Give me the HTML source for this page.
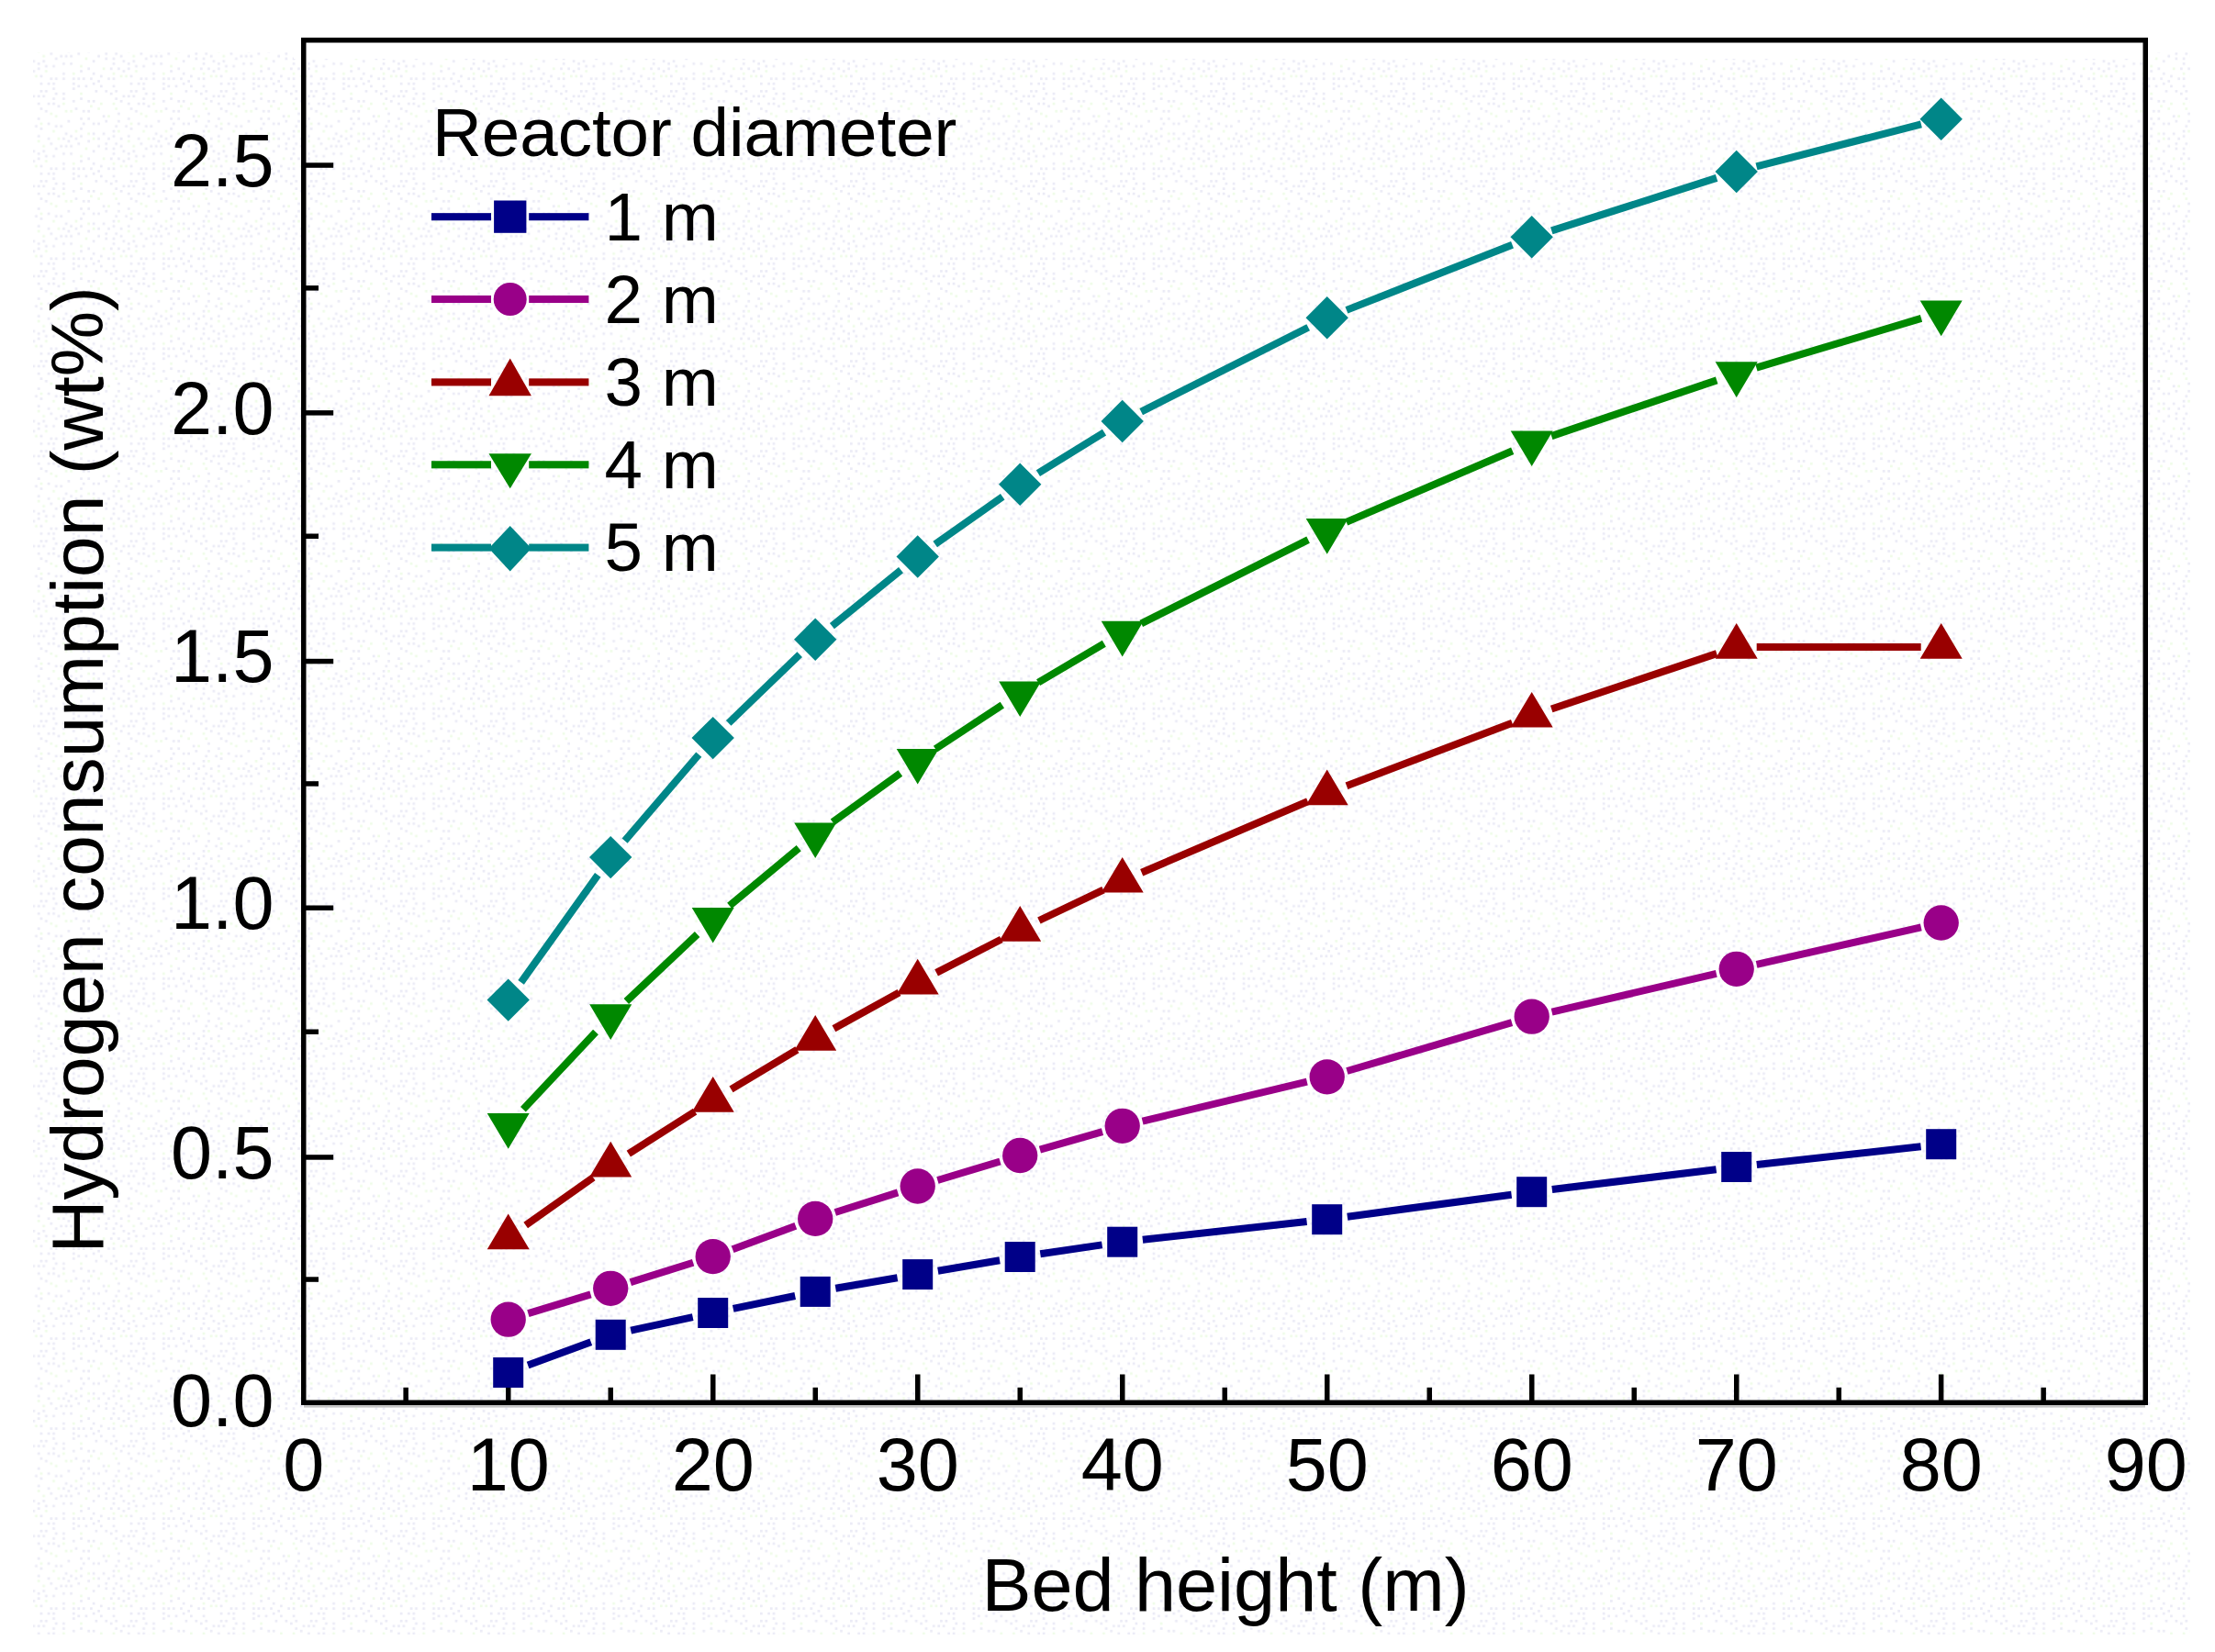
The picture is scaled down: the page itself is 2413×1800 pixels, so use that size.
<!DOCTYPE html>
<html><head><meta charset="utf-8"><title>Hydrogen consumption vs bed height</title>
<style>html,body{margin:0;padding:0;background:#fff;}body{width:2413px;height:1800px;position:relative;overflow:hidden;font-family:"Liberation Sans",sans-serif;}</style>
</head><body>
<svg width="2413" height="1800" viewBox="0 0 2413 1800" style="position:absolute;left:0;top:0">
<defs><pattern id="dz" width="98.05" height="98.05" patternUnits="userSpaceOnUse"><rect x="0.00" y="16.34" width="2.72" height="2.72" fill="#effce8"/><rect x="0.00" y="84.43" width="2.72" height="2.72" fill="#ebebf6"/><rect x="2.72" y="10.89" width="2.72" height="2.72" fill="#ebebf6"/><rect x="2.72" y="35.41" width="2.72" height="2.72" fill="#ebebf6"/><rect x="2.72" y="46.30" width="2.72" height="2.72" fill="#ebebf6"/><rect x="2.72" y="51.75" width="2.72" height="2.72" fill="#effce8"/><rect x="2.72" y="65.36" width="2.72" height="2.72" fill="#ebebf6"/><rect x="2.72" y="78.98" width="2.72" height="2.72" fill="#ebebf6"/><rect x="2.72" y="89.88" width="2.72" height="2.72" fill="#ebebf6"/><rect x="5.45" y="0.00" width="2.72" height="2.72" fill="#ebebf6"/><rect x="8.17" y="19.06" width="2.72" height="2.72" fill="#effce8"/><rect x="8.17" y="35.41" width="2.72" height="2.72" fill="#ebebf6"/><rect x="8.17" y="51.75" width="2.72" height="2.72" fill="#ebebf6"/><rect x="8.17" y="59.92" width="2.72" height="2.72" fill="#ebebf6"/><rect x="8.17" y="87.15" width="2.72" height="2.72" fill="#ebebf6"/><rect x="10.89" y="13.62" width="2.72" height="2.72" fill="#effce8"/><rect x="10.89" y="81.70" width="2.72" height="2.72" fill="#ebebf6"/><rect x="10.89" y="92.60" width="2.72" height="2.72" fill="#ebebf6"/><rect x="13.62" y="27.23" width="2.72" height="2.72" fill="#ebebf6"/><rect x="13.62" y="46.30" width="2.72" height="2.72" fill="#ebebf6"/><rect x="13.62" y="73.53" width="2.72" height="2.72" fill="#effce8"/><rect x="16.34" y="0.00" width="2.72" height="2.72" fill="#ebebf6"/><rect x="16.34" y="32.68" width="2.72" height="2.72" fill="#ebebf6"/><rect x="16.34" y="57.19" width="2.72" height="2.72" fill="#ebebf6"/><rect x="16.34" y="62.64" width="2.72" height="2.72" fill="#ebebf6"/><rect x="19.06" y="27.23" width="2.72" height="2.72" fill="#effce8"/><rect x="19.06" y="51.75" width="2.72" height="2.72" fill="#ebebf6"/><rect x="19.06" y="84.43" width="2.72" height="2.72" fill="#ebebf6"/><rect x="21.79" y="2.72" width="2.72" height="2.72" fill="#ebebf6"/><rect x="21.79" y="73.53" width="2.72" height="2.72" fill="#ebebf6"/><rect x="24.51" y="13.62" width="2.72" height="2.72" fill="#effce8"/><rect x="24.51" y="43.58" width="2.72" height="2.72" fill="#ebebf6"/><rect x="24.51" y="49.02" width="2.72" height="2.72" fill="#ebebf6"/><rect x="24.51" y="62.64" width="2.72" height="2.72" fill="#ebebf6"/><rect x="24.51" y="68.09" width="2.72" height="2.72" fill="#ebebf6"/><rect x="24.51" y="78.98" width="2.72" height="2.72" fill="#effce8"/><rect x="24.51" y="84.43" width="2.72" height="2.72" fill="#ebebf6"/><rect x="24.51" y="92.60" width="2.72" height="2.72" fill="#ebebf6"/><rect x="27.23" y="0.00" width="2.72" height="2.72" fill="#ebebf6"/><rect x="27.23" y="8.17" width="2.72" height="2.72" fill="#ebebf6"/><rect x="27.23" y="19.06" width="2.72" height="2.72" fill="#effce8"/><rect x="27.23" y="38.13" width="2.72" height="2.72" fill="#ebebf6"/><rect x="27.23" y="57.19" width="2.72" height="2.72" fill="#ebebf6"/><rect x="29.96" y="24.51" width="2.72" height="2.72" fill="#ebebf6"/><rect x="29.96" y="32.68" width="2.72" height="2.72" fill="#ebebf6"/><rect x="29.96" y="43.58" width="2.72" height="2.72" fill="#effce8"/><rect x="29.96" y="73.53" width="2.72" height="2.72" fill="#ebebf6"/><rect x="32.68" y="10.89" width="2.72" height="2.72" fill="#ebebf6"/><rect x="32.68" y="51.75" width="2.72" height="2.72" fill="#ebebf6"/><rect x="32.68" y="59.92" width="2.72" height="2.72" fill="#ebebf6"/><rect x="32.68" y="81.70" width="2.72" height="2.72" fill="#effce8"/><rect x="35.41" y="5.45" width="2.72" height="2.72" fill="#ebebf6"/><rect x="35.41" y="65.36" width="2.72" height="2.72" fill="#ebebf6"/><rect x="35.41" y="76.26" width="2.72" height="2.72" fill="#ebebf6"/><rect x="38.13" y="38.13" width="2.72" height="2.72" fill="#ebebf6"/><rect x="38.13" y="81.70" width="2.72" height="2.72" fill="#effce8"/><rect x="40.85" y="5.45" width="2.72" height="2.72" fill="#ebebf6"/><rect x="40.85" y="13.62" width="2.72" height="2.72" fill="#ebebf6"/><rect x="40.85" y="29.96" width="2.72" height="2.72" fill="#ebebf6"/><rect x="40.85" y="49.02" width="2.72" height="2.72" fill="#ebebf6"/><rect x="40.85" y="54.47" width="2.72" height="2.72" fill="#effce8"/><rect x="40.85" y="68.09" width="2.72" height="2.72" fill="#ebebf6"/><rect x="40.85" y="73.53" width="2.72" height="2.72" fill="#ebebf6"/><rect x="43.58" y="0.00" width="2.72" height="2.72" fill="#ebebf6"/><rect x="43.58" y="19.06" width="2.72" height="2.72" fill="#ebebf6"/><rect x="43.58" y="35.41" width="2.72" height="2.72" fill="#effce8"/><rect x="43.58" y="40.85" width="2.72" height="2.72" fill="#ebebf6"/><rect x="43.58" y="81.70" width="2.72" height="2.72" fill="#ebebf6"/><rect x="43.58" y="89.88" width="2.72" height="2.72" fill="#ebebf6"/><rect x="46.30" y="5.45" width="2.72" height="2.72" fill="#ebebf6"/><rect x="46.30" y="59.92" width="2.72" height="2.72" fill="#effce8"/><rect x="46.30" y="65.36" width="2.72" height="2.72" fill="#ebebf6"/><rect x="49.02" y="0.00" width="2.72" height="2.72" fill="#ebebf6"/><rect x="49.02" y="21.79" width="2.72" height="2.72" fill="#ebebf6"/><rect x="49.02" y="70.81" width="2.72" height="2.72" fill="#ebebf6"/><rect x="49.02" y="76.26" width="2.72" height="2.72" fill="#effce8"/><rect x="51.75" y="13.62" width="2.72" height="2.72" fill="#ebebf6"/><rect x="51.75" y="35.41" width="2.72" height="2.72" fill="#ebebf6"/><rect x="51.75" y="51.75" width="2.72" height="2.72" fill="#ebebf6"/><rect x="51.75" y="89.88" width="2.72" height="2.72" fill="#ebebf6"/><rect x="54.47" y="24.51" width="2.72" height="2.72" fill="#effce8"/><rect x="54.47" y="57.19" width="2.72" height="2.72" fill="#ebebf6"/><rect x="54.47" y="84.43" width="2.72" height="2.72" fill="#ebebf6"/><rect x="57.19" y="8.17" width="2.72" height="2.72" fill="#ebebf6"/><rect x="57.19" y="13.62" width="2.72" height="2.72" fill="#ebebf6"/><rect x="57.19" y="43.58" width="2.72" height="2.72" fill="#effce8"/><rect x="57.19" y="70.81" width="2.72" height="2.72" fill="#ebebf6"/><rect x="57.19" y="89.88" width="2.72" height="2.72" fill="#ebebf6"/><rect x="57.19" y="95.32" width="2.72" height="2.72" fill="#ebebf6"/><rect x="59.92" y="2.72" width="2.72" height="2.72" fill="#ebebf6"/><rect x="59.92" y="27.23" width="2.72" height="2.72" fill="#effce8"/><rect x="59.92" y="38.13" width="2.72" height="2.72" fill="#ebebf6"/><rect x="59.92" y="62.64" width="2.72" height="2.72" fill="#ebebf6"/><rect x="59.92" y="84.43" width="2.72" height="2.72" fill="#ebebf6"/><rect x="62.64" y="16.34" width="2.72" height="2.72" fill="#ebebf6"/><rect x="62.64" y="51.75" width="2.72" height="2.72" fill="#effce8"/><rect x="65.36" y="38.13" width="2.72" height="2.72" fill="#ebebf6"/><rect x="65.36" y="59.92" width="2.72" height="2.72" fill="#ebebf6"/><rect x="68.09" y="2.72" width="2.72" height="2.72" fill="#ebebf6"/><rect x="68.09" y="8.17" width="2.72" height="2.72" fill="#ebebf6"/><rect x="68.09" y="13.62" width="2.72" height="2.72" fill="#effce8"/><rect x="68.09" y="51.75" width="2.72" height="2.72" fill="#ebebf6"/><rect x="68.09" y="68.09" width="2.72" height="2.72" fill="#ebebf6"/><rect x="68.09" y="78.98" width="2.72" height="2.72" fill="#ebebf6"/><rect x="68.09" y="84.43" width="2.72" height="2.72" fill="#ebebf6"/><rect x="70.81" y="21.79" width="2.72" height="2.72" fill="#effce8"/><rect x="70.81" y="46.30" width="2.72" height="2.72" fill="#ebebf6"/><rect x="70.81" y="59.92" width="2.72" height="2.72" fill="#ebebf6"/><rect x="73.53" y="32.68" width="2.72" height="2.72" fill="#ebebf6"/><rect x="73.53" y="54.47" width="2.72" height="2.72" fill="#ebebf6"/><rect x="76.26" y="21.79" width="2.72" height="2.72" fill="#effce8"/><rect x="76.26" y="49.02" width="2.72" height="2.72" fill="#ebebf6"/><rect x="76.26" y="59.92" width="2.72" height="2.72" fill="#ebebf6"/><rect x="76.26" y="68.09" width="2.72" height="2.72" fill="#ebebf6"/><rect x="78.98" y="10.89" width="2.72" height="2.72" fill="#ebebf6"/><rect x="78.98" y="78.98" width="2.72" height="2.72" fill="#effce8"/><rect x="78.98" y="84.43" width="2.72" height="2.72" fill="#ebebf6"/><rect x="78.98" y="89.88" width="2.72" height="2.72" fill="#ebebf6"/><rect x="78.98" y="95.32" width="2.72" height="2.72" fill="#ebebf6"/><rect x="81.70" y="19.06" width="2.72" height="2.72" fill="#ebebf6"/><rect x="81.70" y="43.58" width="2.72" height="2.72" fill="#effce8"/><rect x="81.70" y="51.75" width="2.72" height="2.72" fill="#ebebf6"/><rect x="84.43" y="57.19" width="2.72" height="2.72" fill="#ebebf6"/><rect x="84.43" y="84.43" width="2.72" height="2.72" fill="#ebebf6"/><rect x="84.43" y="92.60" width="2.72" height="2.72" fill="#ebebf6"/><rect x="87.15" y="2.72" width="2.72" height="2.72" fill="#effce8"/><rect x="87.15" y="8.17" width="2.72" height="2.72" fill="#ebebf6"/><rect x="87.15" y="29.96" width="2.72" height="2.72" fill="#ebebf6"/><rect x="87.15" y="40.85" width="2.72" height="2.72" fill="#ebebf6"/><rect x="87.15" y="49.02" width="2.72" height="2.72" fill="#ebebf6"/><rect x="87.15" y="70.81" width="2.72" height="2.72" fill="#effce8"/><rect x="87.15" y="76.26" width="2.72" height="2.72" fill="#ebebf6"/><rect x="89.88" y="21.79" width="2.72" height="2.72" fill="#ebebf6"/><rect x="89.88" y="35.41" width="2.72" height="2.72" fill="#ebebf6"/><rect x="89.88" y="84.43" width="2.72" height="2.72" fill="#ebebf6"/><rect x="92.60" y="62.64" width="2.72" height="2.72" fill="#effce8"/><rect x="92.60" y="92.60" width="2.72" height="2.72" fill="#ebebf6"/><rect x="95.32" y="10.89" width="2.72" height="2.72" fill="#ebebf6"/><rect x="95.32" y="21.79" width="2.72" height="2.72" fill="#ebebf6"/><rect x="95.32" y="29.96" width="2.72" height="2.72" fill="#ebebf6"/><rect x="95.32" y="46.30" width="2.72" height="2.72" fill="#effce8"/><rect x="95.32" y="54.47" width="2.72" height="2.72" fill="#ebebf6"/><rect x="95.32" y="73.53" width="2.72" height="2.72" fill="#ebebf6"/></pattern></defs>
<rect x="0" y="0" width="2413" height="1800" fill="#ffffff"/>
<rect x="36" y="57" width="2350" height="1724" fill="url(#dz)"/>
<rect x="320" y="41" width="2028" height="23" fill="#fff"/>
<rect x="331" y="1531.0" width="2006.0" height="2.6" fill="#c4c4c4"/>
<rect x="330.75" y="43.75" width="2006.5" height="1484.5" fill="none" stroke="#000" stroke-width="5.5"/>
<rect x="439.4" y="1511.8" width="5.5" height="14.7" fill="#000"/>
<rect x="551.0" y="1497.5" width="5.5" height="29" fill="#000"/>
<rect x="662.5" y="1511.8" width="5.5" height="14.7" fill="#000"/>
<rect x="774.0" y="1497.5" width="5.5" height="29" fill="#000"/>
<rect x="885.5" y="1511.8" width="5.5" height="14.7" fill="#000"/>
<rect x="997.0" y="1497.5" width="5.5" height="29" fill="#000"/>
<rect x="1108.5" y="1511.8" width="5.5" height="14.7" fill="#000"/>
<rect x="1220.0" y="1497.5" width="5.5" height="29" fill="#000"/>
<rect x="1331.5" y="1511.8" width="5.5" height="14.7" fill="#000"/>
<rect x="1443.0" y="1497.5" width="5.5" height="29" fill="#000"/>
<rect x="1554.5" y="1511.8" width="5.5" height="14.7" fill="#000"/>
<rect x="1666.0" y="1497.5" width="5.5" height="29" fill="#000"/>
<rect x="1777.5" y="1511.8" width="5.5" height="14.7" fill="#000"/>
<rect x="1889.0" y="1497.5" width="5.5" height="29" fill="#000"/>
<rect x="2000.5" y="1511.8" width="5.5" height="14.7" fill="#000"/>
<rect x="2111.9" y="1497.5" width="5.5" height="29" fill="#000"/>
<rect x="2223.4" y="1511.8" width="5.5" height="14.7" fill="#000"/>
<rect x="332.5" y="177.3" width="30.7" height="5.5" fill="#000"/>
<rect x="332.5" y="311.1" width="14.5" height="5.5" fill="#000"/>
<rect x="332.5" y="447.1" width="30.7" height="5.5" fill="#000"/>
<rect x="332.5" y="581.5" width="14.5" height="5.5" fill="#000"/>
<rect x="332.5" y="717.8" width="30.7" height="5.5" fill="#000"/>
<rect x="332.5" y="851.2" width="14.5" height="5.5" fill="#000"/>
<rect x="332.5" y="986.5" width="30.7" height="5.5" fill="#000"/>
<rect x="332.5" y="1121.5" width="14.5" height="5.5" fill="#000"/>
<rect x="332.5" y="1258.2" width="30.7" height="5.5" fill="#000"/>
<rect x="332.5" y="1391.3" width="14.5" height="5.5" fill="#000"/>
<line x1="575.1" y1="1487.6" x2="643.8" y2="1462.2" stroke="#000088" stroke-width="8"/>
<line x1="687.2" y1="1449.6" x2="754.7" y2="1435.2" stroke="#000088" stroke-width="8"/>
<line x1="798.7" y1="1425.9" x2="866.2" y2="1412.0" stroke="#000088" stroke-width="8"/>
<line x1="910.3" y1="1403.7" x2="977.6" y2="1392.3" stroke="#000088" stroke-width="8"/>
<line x1="1021.8" y1="1384.8" x2="1089.1" y2="1373.3" stroke="#000088" stroke-width="8"/>
<line x1="1133.3" y1="1366.3" x2="1200.6" y2="1356.4" stroke="#000088" stroke-width="8"/>
<line x1="1244.8" y1="1350.8" x2="1423.6" y2="1331.1" stroke="#000088" stroke-width="8"/>
<line x1="1467.8" y1="1325.7" x2="1646.6" y2="1301.7" stroke="#000088" stroke-width="8"/>
<line x1="1690.8" y1="1296.0" x2="1869.6" y2="1274.2" stroke="#000088" stroke-width="8"/>
<line x1="1913.8" y1="1269.0" x2="2092.6" y2="1249.2" stroke="#000088" stroke-width="8"/>
<rect x="537.2" y="1479.0" width="33.0" height="33.0" fill="#000088"/>
<rect x="648.7" y="1437.8" width="33.0" height="33.0" fill="#000088"/>
<rect x="760.2" y="1414.0" width="33.0" height="33.0" fill="#000088"/>
<rect x="871.7" y="1390.9" width="33.0" height="33.0" fill="#000088"/>
<rect x="983.2" y="1372.1" width="33.0" height="33.0" fill="#000088"/>
<rect x="1094.7" y="1353.0" width="33.0" height="33.0" fill="#000088"/>
<rect x="1206.2" y="1336.7" width="33.0" height="33.0" fill="#000088"/>
<rect x="1429.2" y="1312.2" width="33.0" height="33.0" fill="#000088"/>
<rect x="1652.2" y="1282.2" width="33.0" height="33.0" fill="#000088"/>
<rect x="1875.2" y="1255.0" width="33.0" height="33.0" fill="#000088"/>
<rect x="2098.2" y="1230.2" width="33.0" height="33.0" fill="#000088"/>
<line x1="575.4" y1="1431.1" x2="643.5" y2="1410.4" stroke="#990088" stroke-width="8"/>
<line x1="686.8" y1="1397.1" x2="755.1" y2="1375.8" stroke="#990088" stroke-width="8"/>
<line x1="798.1" y1="1361.2" x2="866.8" y2="1335.8" stroke="#990088" stroke-width="8"/>
<line x1="909.8" y1="1321.0" x2="978.1" y2="1299.4" stroke="#990088" stroke-width="8"/>
<line x1="1021.4" y1="1286.0" x2="1089.5" y2="1265.5" stroke="#990088" stroke-width="8"/>
<line x1="1132.9" y1="1252.7" x2="1201.0" y2="1233.1" stroke="#990088" stroke-width="8"/>
<line x1="1244.6" y1="1221.6" x2="1423.8" y2="1178.6" stroke="#990088" stroke-width="8"/>
<line x1="1467.4" y1="1167.0" x2="1647.0" y2="1114.1" stroke="#990088" stroke-width="8"/>
<line x1="1690.6" y1="1102.6" x2="1869.8" y2="1060.9" stroke="#990088" stroke-width="8"/>
<line x1="1913.6" y1="1050.9" x2="2092.8" y2="1010.4" stroke="#990088" stroke-width="8"/>
<circle cx="553.7" cy="1437.7" r="19.15" fill="#990088"/>
<circle cx="665.2" cy="1403.8" r="19.15" fill="#990088"/>
<circle cx="776.7" cy="1369.1" r="19.15" fill="#990088"/>
<circle cx="888.2" cy="1327.9" r="19.15" fill="#990088"/>
<circle cx="999.7" cy="1292.5" r="19.15" fill="#990088"/>
<circle cx="1111.2" cy="1259.0" r="19.15" fill="#990088"/>
<circle cx="1222.7" cy="1226.8" r="19.15" fill="#990088"/>
<circle cx="1445.7" cy="1173.4" r="19.15" fill="#990088"/>
<circle cx="1668.7" cy="1107.7" r="19.15" fill="#990088"/>
<circle cx="1891.7" cy="1055.8" r="19.15" fill="#990088"/>
<circle cx="2114.7" cy="1005.5" r="19.15" fill="#990088"/>
<line x1="572.7" y1="1334.9" x2="646.2" y2="1282.9" stroke="#990000" stroke-width="8"/>
<line x1="684.8" y1="1257.1" x2="757.1" y2="1211.2" stroke="#990000" stroke-width="8"/>
<line x1="796.5" y1="1186.9" x2="868.4" y2="1143.7" stroke="#990000" stroke-width="8"/>
<line x1="908.4" y1="1120.7" x2="979.5" y2="1081.6" stroke="#990000" stroke-width="8"/>
<line x1="1020.1" y1="1059.9" x2="1090.8" y2="1023.5" stroke="#990000" stroke-width="8"/>
<line x1="1131.9" y1="1003.0" x2="1202.0" y2="969.6" stroke="#990000" stroke-width="8"/>
<line x1="1243.7" y1="950.7" x2="1424.7" y2="873.3" stroke="#990000" stroke-width="8"/>
<line x1="1467.0" y1="856.2" x2="1647.4" y2="787.8" stroke="#990000" stroke-width="8"/>
<line x1="1690.2" y1="772.5" x2="1870.2" y2="712.1" stroke="#990000" stroke-width="8"/>
<line x1="1913.7" y1="704.9" x2="2092.7" y2="704.9" stroke="#990000" stroke-width="8"/>
<polygon points="553.7,1322.5 576.7,1361.2 530.7,1361.2" fill="#990000"/>
<polygon points="665.2,1243.7 688.2,1282.4 642.2,1282.4" fill="#990000"/>
<polygon points="776.7,1173.0 799.7,1211.7 753.7,1211.7" fill="#990000"/>
<polygon points="888.2,1106.0 911.2,1144.7 865.2,1144.7" fill="#990000"/>
<polygon points="999.7,1044.7 1022.7,1083.4 976.7,1083.4" fill="#990000"/>
<polygon points="1111.2,987.1 1134.2,1025.8 1088.2,1025.8" fill="#990000"/>
<polygon points="1222.7,933.9 1245.7,972.6 1199.7,972.6" fill="#990000"/>
<polygon points="1445.7,838.5 1468.7,877.2 1422.7,877.2" fill="#990000"/>
<polygon points="1668.7,753.9 1691.7,792.6 1645.7,792.6" fill="#990000"/>
<polygon points="1891.7,679.1 1914.7,717.8 1868.7,717.8" fill="#990000"/>
<polygon points="2114.7,679.1 2137.7,717.8 2091.7,717.8" fill="#990000"/>
<line x1="569.9" y1="1208.8" x2="649.0" y2="1124.4" stroke="#008800" stroke-width="8"/>
<line x1="682.3" y1="1091.0" x2="759.6" y2="1018.0" stroke="#008800" stroke-width="8"/>
<line x1="794.7" y1="986.9" x2="870.2" y2="924.2" stroke="#008800" stroke-width="8"/>
<line x1="907.1" y1="895.7" x2="980.8" y2="842.4" stroke="#008800" stroke-width="8"/>
<line x1="1019.1" y1="816.0" x2="1091.8" y2="768.1" stroke="#008800" stroke-width="8"/>
<line x1="1131.1" y1="743.6" x2="1202.8" y2="701.3" stroke="#008800" stroke-width="8"/>
<line x1="1243.3" y1="679.3" x2="1425.1" y2="588.2" stroke="#008800" stroke-width="8"/>
<line x1="1466.7" y1="568.9" x2="1647.7" y2="491.3" stroke="#008800" stroke-width="8"/>
<line x1="1690.2" y1="475.1" x2="1870.2" y2="414.4" stroke="#008800" stroke-width="8"/>
<line x1="1913.4" y1="400.7" x2="2093.0" y2="346.9" stroke="#008800" stroke-width="8"/>
<polygon points="553.7,1251.8 576.7,1213.1 530.7,1213.1" fill="#008800"/>
<polygon points="665.2,1133.0 688.2,1094.3 642.2,1094.3" fill="#008800"/>
<polygon points="776.7,1027.6 799.7,988.9 753.7,988.9" fill="#008800"/>
<polygon points="888.2,935.1 911.2,896.4 865.2,896.4" fill="#008800"/>
<polygon points="999.7,854.6 1022.7,815.9 976.7,815.9" fill="#008800"/>
<polygon points="1111.2,781.1 1134.2,742.4 1088.2,742.4" fill="#008800"/>
<polygon points="1222.7,715.4 1245.7,676.7 1199.7,676.7" fill="#008800"/>
<polygon points="1445.7,603.7 1468.7,565.0 1422.7,565.0" fill="#008800"/>
<polygon points="1668.7,508.1 1691.7,469.4 1645.7,469.4" fill="#008800"/>
<polygon points="1891.7,433.0 1914.7,394.3 1868.7,394.3" fill="#008800"/>
<polygon points="2114.7,366.2 2137.7,327.5 2091.7,327.5" fill="#008800"/>
<line x1="567.6" y1="1070.3" x2="651.3" y2="953.4" stroke="#008688" stroke-width="8"/>
<line x1="680.6" y1="916.1" x2="761.3" y2="822.1" stroke="#008688" stroke-width="8"/>
<line x1="793.7" y1="787.8" x2="871.2" y2="713.1" stroke="#008688" stroke-width="8"/>
<line x1="906.4" y1="682.1" x2="981.5" y2="621.2" stroke="#008688" stroke-width="8"/>
<line x1="1018.7" y1="593.1" x2="1092.2" y2="541.2" stroke="#008688" stroke-width="8"/>
<line x1="1130.9" y1="515.6" x2="1203.0" y2="471.2" stroke="#008688" stroke-width="8"/>
<line x1="1243.2" y1="448.6" x2="1425.2" y2="356.7" stroke="#008688" stroke-width="8"/>
<line x1="1466.9" y1="337.9" x2="1647.5" y2="266.7" stroke="#008688" stroke-width="8"/>
<line x1="1690.3" y1="251.4" x2="1870.1" y2="193.9" stroke="#008688" stroke-width="8"/>
<line x1="1913.5" y1="181.4" x2="2092.9" y2="135.4" stroke="#008688" stroke-width="8"/>
<polygon points="553.7,1066.4 576.9,1089.6 553.7,1112.8 530.5,1089.6" fill="#008688"/>
<polygon points="665.2,910.9 688.4,934.1 665.2,957.3 642.0,934.1" fill="#008688"/>
<polygon points="776.7,780.9 799.9,804.1 776.7,827.3 753.5,804.1" fill="#008688"/>
<polygon points="888.2,673.6 911.4,696.8 888.2,720.0 865.0,696.8" fill="#008688"/>
<polygon points="999.7,583.3 1022.9,606.5 999.7,629.7 976.5,606.5" fill="#008688"/>
<polygon points="1111.2,504.6 1134.4,527.8 1111.2,551.0 1088.0,527.8" fill="#008688"/>
<polygon points="1222.7,435.8 1245.9,459.0 1222.7,482.2 1199.5,459.0" fill="#008688"/>
<polygon points="1445.7,323.1 1468.9,346.3 1445.7,369.5 1422.5,346.3" fill="#008688"/>
<polygon points="1668.7,235.1 1691.9,258.3 1668.7,281.5 1645.5,258.3" fill="#008688"/>
<polygon points="1891.7,163.8 1914.9,187.0 1891.7,210.2 1868.5,187.0" fill="#008688"/>
<polygon points="2114.7,106.6 2137.9,129.8 2114.7,153.0 2091.5,129.8" fill="#008688"/>
<rect x="470" y="232.15" width="65" height="8.1" fill="#000088"/>
<rect x="576.2" y="232.15" width="65.2" height="8.1" fill="#000088"/>
<rect x="538.1" y="218.5" width="35.3" height="35.3" fill="#000088"/>
<rect x="470" y="321.95" width="65" height="8.1" fill="#990088"/>
<rect x="576.2" y="321.95" width="65.2" height="8.1" fill="#990088"/>
<circle cx="555.7" cy="326.0" r="18.0" fill="#990088"/>
<rect x="470" y="412.35" width="65" height="8.1" fill="#990000"/>
<rect x="576.2" y="412.35" width="65.2" height="8.1" fill="#990000"/>
<polygon points="555.7,390.4 578.9000000000001,431.3 532.5,431.3" fill="#990000"/>
<rect x="470" y="502.25" width="65" height="8.1" fill="#008800"/>
<rect x="576.2" y="502.25" width="65.2" height="8.1" fill="#008800"/>
<polygon points="555.7,532.3 578.9000000000001,494.2 532.5,494.2" fill="#008800"/>
<rect x="470" y="592.55" width="65" height="8.1" fill="#008688"/>
<rect x="576.2" y="592.55" width="65.2" height="8.1" fill="#008688"/>
<polygon points="555.7,573.0 578.9000000000001,597.6 555.7,622.4 532.5,597.6" fill="#008688"/>
<text x="471" y="169.6" font-size="74.5" font-family="'Liberation Sans', sans-serif" fill="#000">Reactor diameter</text>
<text x="658.5" y="261.7" font-size="74.5" font-family="'Liberation Sans', sans-serif" fill="#000">1 m</text>
<text x="658.5" y="351.5" font-size="74.5" font-family="'Liberation Sans', sans-serif" fill="#000">2 m</text>
<text x="658.5" y="441.9" font-size="74.5" font-family="'Liberation Sans', sans-serif" fill="#000">3 m</text>
<text x="658.5" y="531.8" font-size="74.5" font-family="'Liberation Sans', sans-serif" fill="#000">4 m</text>
<text x="658.5" y="622.1" font-size="74.5" font-family="'Liberation Sans', sans-serif" fill="#000">5 m</text>
<text x="330.7" y="1623.9" font-size="81" text-anchor="middle" font-family="'Liberation Sans', sans-serif" fill="#000">0</text>
<text x="553.7" y="1623.9" font-size="81" text-anchor="middle" font-family="'Liberation Sans', sans-serif" fill="#000">10</text>
<text x="776.7" y="1623.9" font-size="81" text-anchor="middle" font-family="'Liberation Sans', sans-serif" fill="#000">20</text>
<text x="999.7" y="1623.9" font-size="81" text-anchor="middle" font-family="'Liberation Sans', sans-serif" fill="#000">30</text>
<text x="1222.7" y="1623.9" font-size="81" text-anchor="middle" font-family="'Liberation Sans', sans-serif" fill="#000">40</text>
<text x="1445.7" y="1623.9" font-size="81" text-anchor="middle" font-family="'Liberation Sans', sans-serif" fill="#000">50</text>
<text x="1668.7" y="1623.9" font-size="81" text-anchor="middle" font-family="'Liberation Sans', sans-serif" fill="#000">60</text>
<text x="1891.7" y="1623.9" font-size="81" text-anchor="middle" font-family="'Liberation Sans', sans-serif" fill="#000">70</text>
<text x="2114.7" y="1623.9" font-size="81" text-anchor="middle" font-family="'Liberation Sans', sans-serif" fill="#000">80</text>
<text x="2337.7" y="1623.9" font-size="81" text-anchor="middle" font-family="'Liberation Sans', sans-serif" fill="#000">90</text>
<text x="298.5" y="202.7" font-size="81" text-anchor="end" font-family="'Liberation Sans', sans-serif" fill="#000">2.5</text>
<text x="298.5" y="472.5" font-size="81" text-anchor="end" font-family="'Liberation Sans', sans-serif" fill="#000">2.0</text>
<text x="298.5" y="743.1" font-size="81" text-anchor="end" font-family="'Liberation Sans', sans-serif" fill="#000">1.5</text>
<text x="298.5" y="1011.8" font-size="81" text-anchor="end" font-family="'Liberation Sans', sans-serif" fill="#000">1.0</text>
<text x="298.5" y="1283.6" font-size="81" text-anchor="end" font-family="'Liberation Sans', sans-serif" fill="#000">0.5</text>
<text x="298.5" y="1553.8" font-size="81" text-anchor="end" font-family="'Liberation Sans', sans-serif" fill="#000">0.0</text>
<text x="1335" y="1754.8" font-size="81" text-anchor="middle" font-family="'Liberation Sans', sans-serif" fill="#000">Bed height (m)</text>
<text transform="translate(112.3,838.8) rotate(-90)" font-size="80.3" text-anchor="middle" font-family="'Liberation Sans', sans-serif" fill="#000">Hydrogen consumption (wt%)</text>
</svg>
</body></html>
